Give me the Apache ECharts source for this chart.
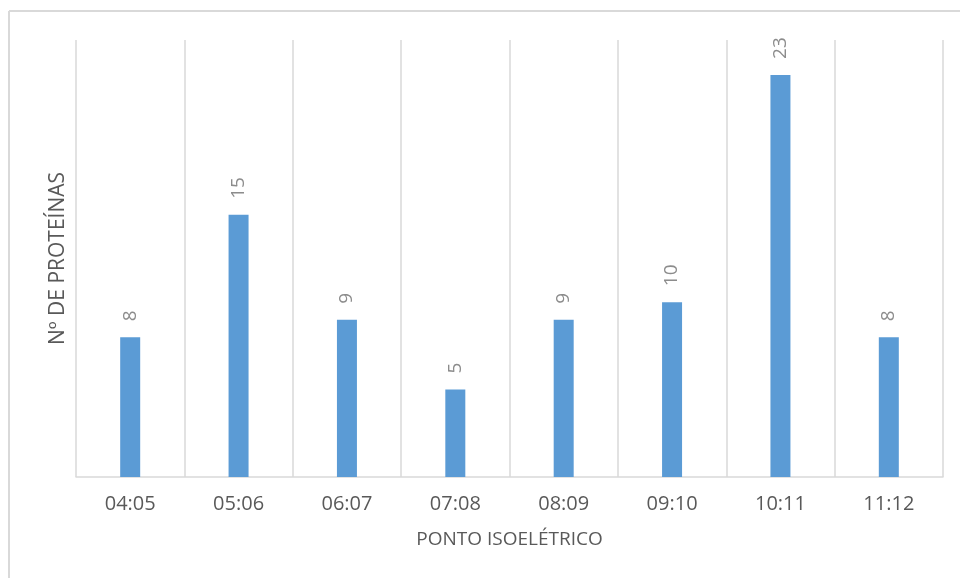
<!DOCTYPE html>
<html>
<head>
<meta charset="utf-8">
<script src="https://cdn.jsdelivr.net/npm/echarts@6/dist/echarts.min.js"></script>
<style>
  html, body { margin: 0; padding: 0; background: #fff; }
  #main { width: 960px; height: 578px; }
</style>
</head>
<body>
<div id="main"></div>
<script>
// dados
var categorias = ['04:05', '05:06', '06:07', '07:08', '08:09', '09:10', '10:11', '11:12'];
var proteinas = [8, 15, 9, 5, 9, 10, 23, 8];

var chart = echarts.init(document.getElementById('main'));

var option = {
  animation: false,
  textStyle: { fontFamily: 'Open Sans' },
  // moldura cinza (só topo e esquerda aparecem)
  graphic: [
    { type: 'line', shape: { x1: 9, y1: 11, x2: 960, y2: 11 }, style: { stroke: '#d9d9d9', lineWidth: 2 } },
    { type: 'line', shape: { x1: 9, y1: 11, x2: 9, y2: 578 }, style: { stroke: '#d9d9d9', lineWidth: 2 } }
  ],
  grid: { left: 76, right: 17, top: 40, bottom: 101 },
  xAxis: {
    type: 'category',
    data: categorias,
    name: 'PONTO ISOELÉTRICO',
    nameLocation: 'middle',
    nameGap: 53,
    nameTextStyle: { fontSize: 19, color: '#595959' },
    axisLine: { lineStyle: { color: '#d9d9d9', width: 1.5 } },
    axisTick: { show: false },
    axisLabel: { fontSize: 20, color: '#595959', margin: 17 },
    splitLine: { show: true, lineStyle: { color: '#d9d9d9', width: 1.5 } }
  },
  yAxis: {
    type: 'value',
    min: 0,
    max: 25,
    interval: 5,
    name: 'Nº DE PROTEÍNAS',
    nameLocation: 'middle',
    nameRotate: 90,
    nameGap: 7,
    nameTextStyle: { fontSize: 21, color: '#595959' },
    axisLine: { show: false },
    axisTick: { show: false },
    axisLabel: { show: false },
    splitLine: { show: false }
  },
  series: [
    {
      type: 'bar',
      data: proteinas,
      barWidth: 20,
      itemStyle: { color: '#5b9bd5' },
      label: {
        show: true,
        position: 'top',
        distance: 16,
        rotate: 90,
        align: 'left',
        verticalAlign: 'middle',
        fontSize: 19,
        color: '#8c8c8c'
      }
    }
  ]
};

chart.setOption(option);
</script>
</body>
</html>
